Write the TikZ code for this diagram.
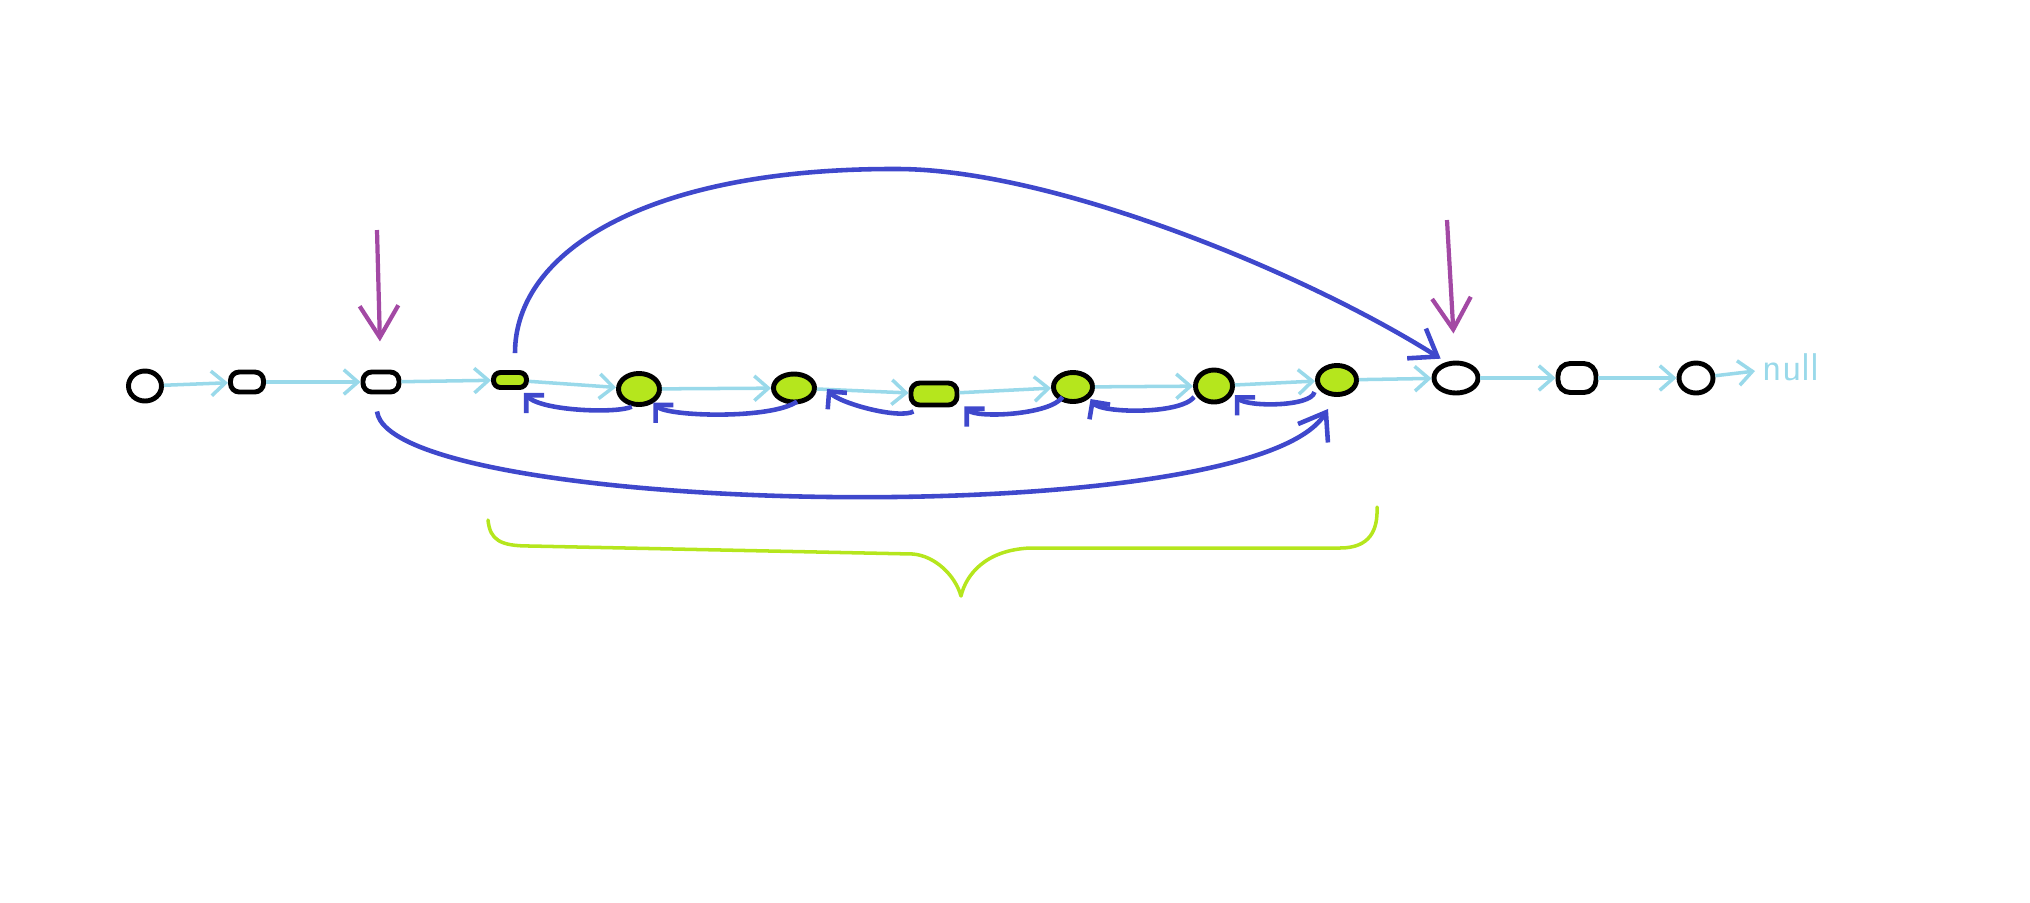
\documentclass[tikz,border=0pt]{standalone}
\usetikzlibrary{arrows.meta,calc,shapes.geometric}
\definecolor{lblue}{HTML}{99D9EA}
\definecolor{dblue}{HTML}{3F48CC}
\definecolor{purp}{HTML}{A349A4}
\definecolor{lime}{HTML}{B5E61D}
\begin{document}
\begin{tikzpicture}[x=0.01cm,y=-0.01cm,
 blob/.style={draw=black,line width=1.4pt,rounded corners=2.5pt,inner sep=0pt,fill=white},
 rblob/.style={draw=black,line width=1.4pt,ellipse,inner sep=0pt,fill=white},
 gblob/.style={blob,fill=lime},
 grblob/.style={rblob,fill=lime},
 fwd/.style={draw=lblue,line width=1pt,-{Straight Barb[length=4pt,width=7pt]}},
 back/.style={draw=dblue,line width=1.3pt,-{Straight Barb[length=3.6pt,width=7.2pt]}},
 bigarc/.style={draw=dblue,line width=1.3pt,-{Straight Barb[length=7pt,width=10pt]}},
 pointer/.style={draw=purp,line width=1.2pt,-{Straight Barb[length=9pt,width=11pt]}},
 bracestyle/.style={draw=lime,line width=1pt,line cap=round,line join=round},
]
\useasboundingbox (0,0) rectangle (2030,902);
% nodes
\node[rblob,minimum width=0.33cm,minimum height=0.30cm] (n1) at (145,386) {};
\node[blob,minimum width=0.33cm,minimum height=0.20cm] (n2) at (247,382) {};
\node[blob,minimum width=0.36cm,minimum height=0.20cm] (n3) at (381,382) {};
\node[gblob,rounded corners=2pt,minimum width=0.33cm,minimum height=0.15cm] (n4) at (510,380) {};
\node[grblob,minimum width=0.41cm,minimum height=0.31cm] (n5) at (639,389) {};
\node[grblob,minimum width=0.41cm,minimum height=0.28cm] (n6) at (794,388) {};
\node[gblob,minimum width=0.46cm,minimum height=0.22cm] (n7) at (934,394) {};
\node[grblob,minimum width=0.39cm,minimum height=0.29cm] (n8) at (1073,387) {};
\node[grblob,minimum width=0.37cm,minimum height=0.32cm] (n9) at (1214,386) {};
\node[grblob,minimum width=0.39cm,minimum height=0.29cm] (n10) at (1337,380) {};
\node[rblob,minimum width=0.44cm,minimum height=0.30cm] (n11) at (1456,378) {};
\node[blob,rounded corners=3.5pt,minimum width=0.38cm,minimum height=0.29cm] (n12) at (1577,378) {};
\node[rblob,minimum width=0.34cm,minimum height=0.30cm] (n13) at (1696,378) {};
\node[text=lblue,font=\sffamily\fontsize{11}{13}\selectfont,anchor=base west,inner sep=2pt] (null) at (1755,380) {null};
% forward arrows
\draw[fwd] (n1) -- (n2);
\draw[fwd] (n2) -- (n3);
\draw[fwd] (n3) -- (n4);
\draw[fwd] (n4) -- (n5);
\draw[fwd] (n5) -- (n6);
\draw[fwd] (n6) -- (n7);
\draw[fwd] (n7) -- (n8);
\draw[fwd] (n8) -- (n9);
\draw[fwd] (n9) -- (n10);
\draw[fwd] (n10) -- (n11);
\draw[fwd] (n11) -- (n12);
\draw[fwd] (n12) -- (n13);
\draw[fwd] (n13) -- (null);
% back arrows
\draw[back] ($(n5.south west)+(9,5)$) .. controls +(-15,7) and +(18,18) .. ($(n4.south east)+(-5,3)$);
\draw[back] ($(n6.south)+(3,-3)$) .. controls +(-25,18) and +(14,14) .. ($(n5.south east)+(-2,1)$);
\draw[back] ($(n7.south west)+(5,4)$) .. controls +(-15,8) and +(12,14) .. ($(n6.east)+(10,1)$);
\draw[back] ($(n8.south west)+(5,-2)$) .. controls +(-12,18) and +(12,12) .. ($(n7.south east)+(5,-1)$);
\draw[back] ($(n9.south west)+(-5,-2)$) .. controls +(-15,18) and +(10,14) .. ($(n8.south east)+(2,0)$);
\draw[back] ($(n10.south west)+(-7,0)$) .. controls +(-3,15) and +(12,12) .. ($(n9.south east)+(6,-4)$);
% big arcs
\coordinate (topmid) at (897,169);
\draw[bigarc] ($(n4.north)+(5,-17)$) .. controls (515,250) and (650,168) .. (topmid)
  .. controls (1050,169) and (1300,270) .. ($(n11.north west)+(2,-7)$);
\draw[bigarc] ($(n3.south)+(-4,17)$) .. controls (390,515) and (1250,535) .. ($(n10.south)+(-9,12)$);
% pointers
\coordinate (p1) at (377,230);
\coordinate (p2) at (1447,220);
\draw[pointer,shorten >=8pt] (p1) -- (n3);
\draw[pointer,shorten >=7.7pt] (p2) -- (n11);
% brace
\draw[bracestyle] (488,520) .. controls (490,540) and (500,546) .. (530,546) -- (913,554)
  .. controls (935,556) and (955,575) .. (961,596)
  .. controls (966,575) and (985,550) .. (1030,548) -- (1340,548)
  .. controls (1370,548) and (1378,530) .. (1377,507);
\end{tikzpicture}
\end{document}
